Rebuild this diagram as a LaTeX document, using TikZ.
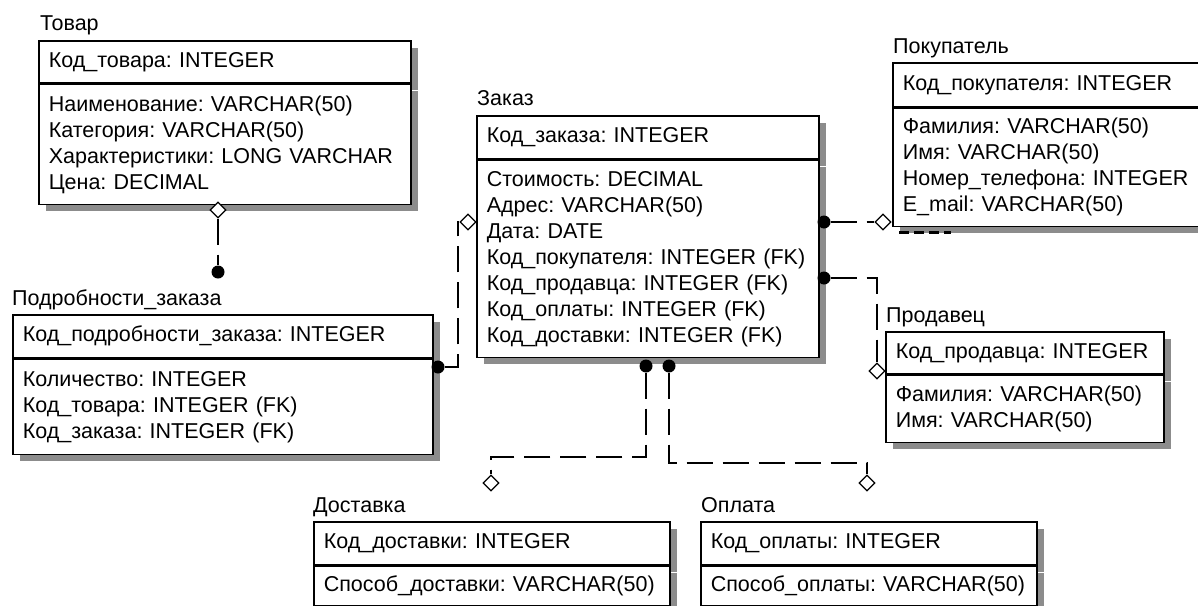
\documentclass[tikz,border=0pt]{standalone}
\usepackage{fontspec}
\setmainfont{Liberation Sans}[WordSpace=0.8]
\usetikzlibrary{calc,shapes.geometric,shadows}
\frenchspacing

\begin{document}
\begin{tikzpicture}[x=1pt, y=-1pt, font=\fontsize{21.5}{26}\selectfont,
		keybox/.style={draw, line width=1.6pt, fill=white, anchor=north west, align=left,
			inner xsep=10pt, inner ysep=0pt,
			drop shadow={shadow xshift=7pt, shadow yshift=-7pt, fill=black!45, opacity=1}},
		attrbox/.style={keybox, anchor=north},
		title/.style={anchor=base west, inner sep=0pt},
		fkdot/.style={circle, fill=black, inner sep=0pt, minimum size=13pt},
		fkdia/.style={diamond, draw, fill=white, line width=1.2pt, inner sep=0pt, minimum size=16pt},
		rel/.style={line width=1.6pt, dash pattern=on 26pt off 10pt}]
	\useasboundingbox (0,0) rectangle (1198,605);
	\clip (0,0) rectangle (1198,605);
	% Товар
	\node[keybox, minimum width=372pt, text width=352pt, minimum height=42pt] (tovar) at (38,40) {Код\_товара: INTEGER};
	\node[attrbox, minimum width=372pt, text width=352pt, minimum height=120pt] (tovarA) at (tovar.south) {Наименование: VARCHAR(50)\\Категория: VARCHAR(50)\\Характеристики: LONG VARCHAR\\Цена: DECIMAL};
	\node[title] (tovarT) at ($(tovar.north west)+(2,-10)$) {Товар};
	% Заказ
	\node[keybox, minimum width=342pt, text width=322pt, minimum height=43pt] (zakaz) at (476,115) {Код\_заказа: INTEGER};
	\node[attrbox, minimum width=342pt, text width=322pt, minimum height=197pt] (zakazA) at (zakaz.south) {Стоимость: DECIMAL\\Адрес: VARCHAR(50)\\Дата: DATE\\Код\_покупателя: INTEGER (FK)\\Код\_продавца: INTEGER (FK)\\Код\_оплаты: INTEGER (FK)\\Код\_доставки: INTEGER (FK)};
	\node[title] (zakazT) at ($(zakaz.north west)+(1,-10)$) {Заказ};
	% Покупатель
	\node[keybox, minimum width=320pt, text width=300pt, minimum height=44pt] (pok) at (892,62) {Код\_покупателя: INTEGER};
	\node[attrbox, minimum width=320pt, text width=300pt, minimum height=118pt] (pokA) at (pok.south) {Фамилия: VARCHAR(50)\\Имя: VARCHAR(50)\\Номер\_телефона: INTEGER\\E\_mail: VARCHAR(50)};
	\node[title] (pokT) at ($(pok.north west)+(1,-9)$) {Покупатель};
	% Продавец
	\node[keybox, minimum width=278pt, text width=258pt, minimum height=42pt] (prod) at (885,331) {Код\_продавца: INTEGER};
	\node[attrbox, minimum width=278pt, text width=258pt, minimum height=67pt] (prodA) at (prod.south) {Фамилия: VARCHAR(50)\\Имя: VARCHAR(50)};
	\node[title] (prodT) at ($(prod.north west)+(1,-9)$) {Продавец};
	% Подробности_заказа
	\node[keybox, minimum width=420pt, text width=400pt, minimum height=43pt] (podr) at (12,314) {Код\_подробности\_заказа: INTEGER};
	\node[attrbox, minimum width=420pt, text width=400pt, minimum height=95pt] (podrA) at (podr.south) {Количество: INTEGER\\Код\_товара: INTEGER (FK)\\Код\_заказа: INTEGER (FK)};
	\node[title] (podrT) at ($(podr.north west)+(0,-9)$) {Подробности\_заказа};
	% Доставка
	\node[keybox, minimum width=356pt, text width=336pt, minimum height=43pt] (dost) at (313,521) {Код\_доставки: INTEGER};
	\node[attrbox, minimum width=356pt, text width=336pt, minimum height=39pt] (dostA) at (dost.south) {Способ\_доставки: VARCHAR(50)};
	\node[title] (dostT) at ($(dost.north west)+(0,-9)$) {Доставка};
	% Оплата
	\node[keybox, minimum width=336pt, text width=316pt, minimum height=43pt] (opl) at (700,521) {Код\_оплаты: INTEGER};
	\node[attrbox, minimum width=336pt, text width=316pt, minimum height=39pt] (oplA) at (opl.south) {Способ\_оплаты: VARCHAR(50)};
	\node[title] (oplT) at ($(opl.north west)+(1,-9)$) {Оплата};
	% концы связей
	\node[fkdia] (tovarD) at (218,210) {};
	\node[fkdot] (podrP) at (218,272) {};
	\node[fkdot] (podrR) at (438,367) {};
	\node[fkdia] (zakazL) at (468,222) {};
	\node[fkdot] (zakazR1) at (824,222) {};
	\node[fkdia] (pokD) at (883,222) {};
	\node[fkdot] (zakazR2) at (824,278) {};
	\node[fkdia] (prodD) at (877,371) {};
	\node[fkdot] (zakazB1) at (646,366) {};
	\node[fkdia] (dostD) at (491,483) {};
	\node[fkdot] (zakazB2) at (669,366) {};
	\node[fkdia] (oplD) at (867,483) {};
	% связи
	\draw[rel] (tovarD) -- (podrP);
	\draw[rel] (podrR) -- ++(20,0) |- (zakazL);
	\draw[rel] (zakazR1) -- (pokD);
	\draw[rel] (zakazR2) -| (prodD);
	\draw[rel] (zakazB1) -- ++(0,91) -| (dostD);
	\draw[rel] (zakazB2) -- ++(0,97) -| (oplD);
	\draw[line width=3pt, dash pattern=on 10pt off 5pt] ($(pokA.south west)+(7,5)$) -- ++(52,0);
\end{tikzpicture}
\end{document}
